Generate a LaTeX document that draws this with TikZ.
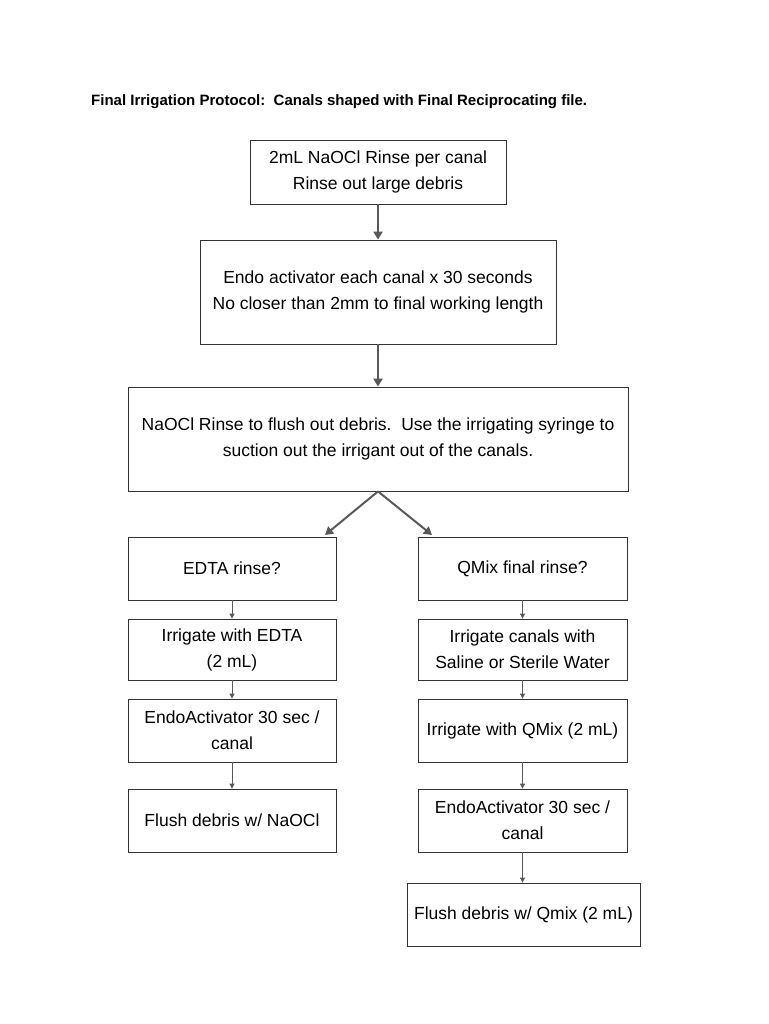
\documentclass[tikz,border=0pt]{standalone}
\usepackage{fontspec}
\setmainfont{Liberation Sans}
\usetikzlibrary{arrows.meta}
\begin{document}
\begin{tikzpicture}[x=1pt,y=-1pt,
  box/.style={draw=black!80,line width=0.8pt,align=center,inner sep=0pt,font=\fontsize{17.5}{26}\selectfont},
  big/.style={draw=black!65,line width=2pt,-{Triangle[length=8pt,width=9pt]}},
  small/.style={draw=black!65,line width=0.8pt,-{Triangle[length=5pt,width=5pt]}}]
\useasboundingbox (0,0) rectangle (768,1024);
\node[anchor=west,inner sep=0pt,font=\bfseries\fontsize{15}{17}\selectfont] (t) at (91,102) {Final Irrigation Protocol:\ \ Canals shaped with Final Reciprocating file.};
\newcommand\bx[6]{\node[box,minimum width=#3-#2,minimum height=#5-#4] (#1) at ({(#2+#3)/2},{(#4+#5)/2}) {#6};}
\bx{a}{250}{506}{140}{204}{2mL NaOCl Rinse per canal\\Rinse out large debris}
\bx{b}{200}{556}{240}{344}{Endo activator each canal x 30 seconds\\No closer than 2mm to final working length}
\bx{c}{128}{628}{387}{491}{NaOCl Rinse to flush out debris.\ \ Use the irrigating syringe to\\suction out the irrigant out of the canals.}
\bx{l1}{128}{336}{537}{600}{EDTA rinse?}
\bx{r1}{418}{627}{537}{600}{QMix final rinse?}
\bx{l2}{128}{336}{619}{680}{Irrigate with EDTA\\(2 mL)}
\bx{l3}{128}{336}{699}{762}{EndoActivator 30 sec /\\canal}
\bx{l4}{128}{336}{789}{852}{Flush debris w/ NaOCl}
\bx{r2}{418}{627}{619}{680}{Irrigate canals with\\Saline or Sterile Water}
\bx{r3}{418}{627}{699}{762}{Irrigate with QMix (2 mL)}
\bx{r4}{418}{627}{789}{852}{EndoActivator 30 sec /\\canal}
\bx{r5}{407}{640}{883}{946}{Flush debris w/ Qmix (2 mL)}
\coordinate (cl) at (325,535);
\coordinate (cr) at (432,535);
\draw[big] (a.south) -- (a.south |- b.north);
\draw[big] (b.south) -- (b.south |- c.north);
\draw[big] (c.south) -- (cl);
\draw[big] (c.south) -- (cr);
\draw[small] (l1.south) -- (l2.north);
\draw[small] (l2.south) -- (l3.north);
\draw[small] (l3.south) -- (l4.north);
\draw[small] (r1.south) -- (r2.north);
\draw[small] (r2.south) -- (r3.north);
\draw[small] (r3.south) -- (r4.north);
\draw[small] (r4.south) -- (r4.south |- r5.north);
\end{tikzpicture}
\end{document}
